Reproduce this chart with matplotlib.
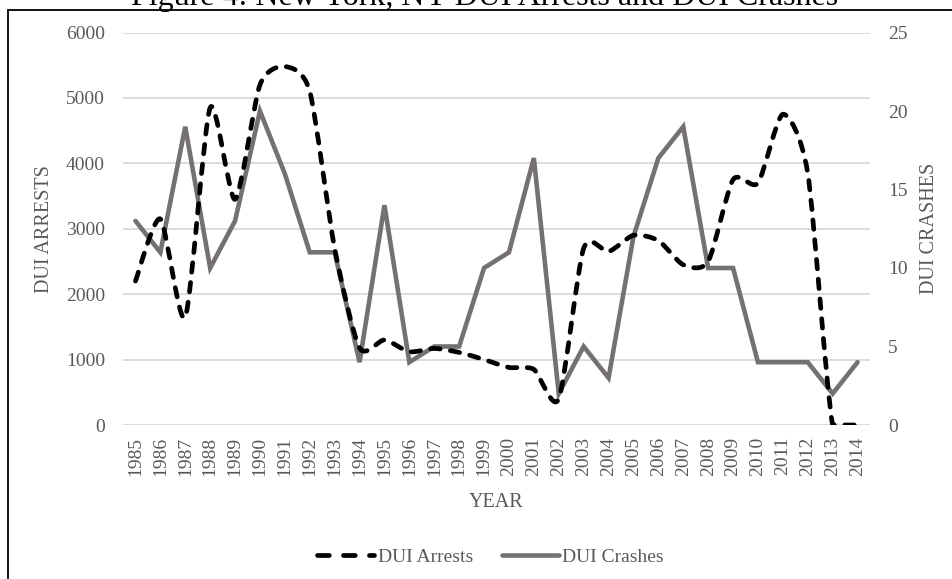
import numpy as np
import matplotlib
matplotlib.use("Agg")
import matplotlib.pyplot as plt
from matplotlib.path import Path
from matplotlib.patches import PathPatch, Rectangle
from matplotlib.lines import Line2D

plt.rcParams['font.family'] = ['Liberation Serif', 'DejaVu Serif']

years = [str(y) for y in range(1985, 2015)]
dui_arrests = [2200, 3150, 1650, 4850, 3450, 5200, 5480, 5100, 2700, 1180,
               1300, 1120, 1170, 1110, 1000, 880, 850, 400, 2700, 2650,
               2900, 2820, 2450, 2500, 3750, 3700, 4750, 3850, 0, 0]
dui_crashes = [13, 11, 19, 10, 13, 20, 16, 11, 11, 4,
               14, 4, 5, 5, 10, 11, 17, 2, 5, 3,
               12, 17, 19, 10, 10, 4, 4, 4, 2, 4]
left_ticks = [0, 1000, 2000, 3000, 4000, 5000, 6000]
right_ticks = [0, 5, 10, 15, 20, 25]

TXT = '#595959'
GRID = '#D9D9D9'
GRAYLINE = '#767171'

W, H = 952, 579
fig = plt.figure(figsize=(W / 100, H / 100), dpi=100)

ax_l, ax_r, ax_t, ax_b = 123, 870, 32.5, 425
rect = [ax_l / W, 1 - ax_b / H, (ax_r - ax_l) / W, (ax_b - ax_t) / H]
ax = fig.add_axes(rect)
x = np.arange(len(years))

ax.set_xlim(-0.5, len(years) - 0.5)
ax.set_ylim(0, 6000)
ax.set_yticks(left_ticks)
ax.grid(axis='y', color=GRID, lw=1.3)
ax.set_axisbelow(True)
for s in ax.spines.values():
    s.set_visible(False)
ax.set_xticks(x)
ax.set_xticklabels(years, rotation=90, fontsize=14, color=TXT)
ax.tick_params(axis='x', length=0, pad=8.5)
ax.tick_params(axis='y', length=0, pad=13, labelsize=14, labelcolor=TXT)
ax.set_ylabel('DUI ARRESTS', fontsize=14.5, color=TXT)
ax.yaxis.set_label_coords((54 - ax_l) / (ax_r - ax_l), 0.5)
ax.set_xlabel('YEAR', fontsize=14.5, color=TXT)
ax.xaxis.set_label_coords(0.5, (ax_b - 493) / (ax_b - ax_t))

# right axis: crashes
ax2 = ax.twinx()
ax2.set_ylim(0, 25)
ax2.set_yticks(right_ticks)
for s in ax2.spines.values():
    s.set_visible(False)
ax2.tick_params(axis='y', length=0, pad=13, labelsize=14, labelcolor=TXT)
ax2.set_ylabel('DUI CRASHES', fontsize=14.5, color=TXT)
ax2.yaxis.set_label_coords((920 - ax_l) / (ax_r - ax_l), 0.5)
ax2.plot(x, dui_crashes, color=GRAYLINE, lw=3.3, solid_capstyle='round',
         solid_joinstyle='miter')

# top layer for arrests (left scale)
ax3 = ax.twinx()
ax3.set_ylim(ax.get_ylim())
ax3.set_yticks([])
for s in ax3.spines.values():
    s.set_visible(False)


def smooth_path(xs, ys, k=0.12, ymin=0.0):
    pts = np.column_stack([xs, ys]).astype(float)
    n = len(pts)
    verts = [pts[0]]
    codes = [Path.MOVETO]
    for i in range(n - 1):
        p0 = pts[i - 1] if i > 0 else pts[i]
        p1 = pts[i]
        p2 = pts[i + 1]
        p3 = pts[i + 2] if i + 2 < n else pts[i + 1]
        c1 = p1 + (p2 - p0) * k
        c2 = p2 - (p3 - p1) * k
        c1[1] = max(c1[1], ymin)
        c2[1] = max(c2[1], ymin)
        verts += [c1, c2, p2]
        codes += [Path.CURVE4] * 3
    return Path(np.array(verts), codes)


dash = (0, (2.0, 2.2))
patch = PathPatch(smooth_path(x, dui_arrests), fill=False, ec='black', lw=3.4,
                  ls=dash, capstyle='round', joinstyle='round')
ax3.add_patch(patch)
ax3.set_xlim(ax.get_xlim())
ax3.set_ylim(0, 6000)

# legend
h1 = Line2D([], [], color='black', lw=3.4, ls=(0, (2.5, 3.0)), dash_capstyle='round')
h2 = Line2D([], [], color=GRAYLINE, lw=3.3, solid_capstyle='round')
leg = fig.legend([h1, h2], ['DUI Arrests', 'DUI Crashes'], ncol=2, loc='center',
                 bbox_to_anchor=((ax_l + ax_r) / 2 / W - 0.006, 1 - 557 / H),
                 frameon=False, fontsize=14, handlelength=2.9, handletextpad=0.2,
                 columnspacing=1.5)
for t in leg.get_texts():
    t.set_color(TXT)

# title and border
fig.text(485 / W, 1 - 5 / H, 'Figure 4: New York, NY DUI Arrests and DUI Crashes',
         ha='center', va='baseline', fontsize=23, color='black')
fig.add_artist(Rectangle((7.5 / W, -0.1), 1.2, 1.1 - 10 / H, transform=fig.transFigure,
                         fill=False, ec='black', lw=1.3, clip_on=False))

fig.savefig('out.png', dpi=100)
